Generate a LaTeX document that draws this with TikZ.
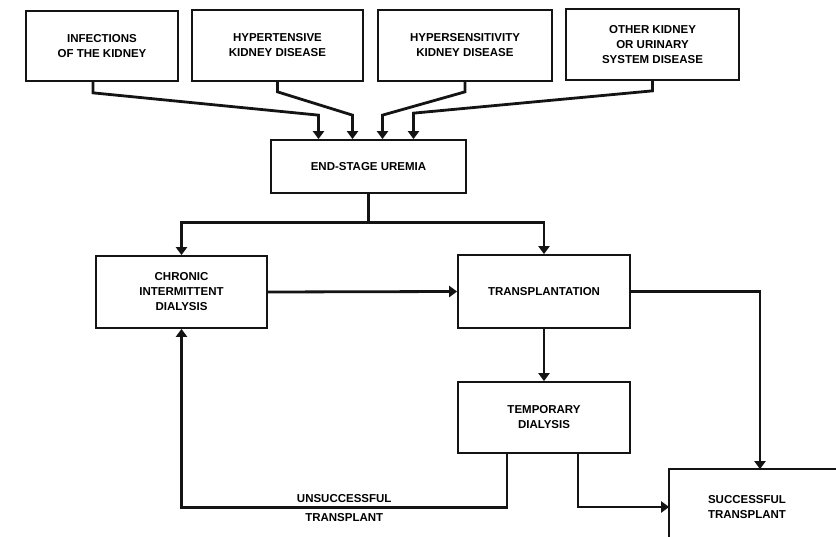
\documentclass[tikz,border=0pt]{standalone}
\usepackage{xcolor}
\usepackage{tikz}
\usepackage{fontspec}
\setmainfont{Liberation Sans}
\usetikzlibrary{arrows.meta,positioning,calc}
\definecolor{ink}{RGB}{20,20,20}

\begin{document}
\begin{tikzpicture}[x=1pt,y=-1pt,
        box/.style={draw=ink, line width=1.7pt, align=center, inner sep=2pt,
            font=\fontsize{11.5}{15}\selectfont\bfseries},
        link/.style={draw=ink, line width=2.8pt, -{Triangle[width=11pt,length=8pt]}},
        lbl/.style={font=\fontsize{11.5}{13}\selectfont\bfseries, inner sep=4pt}]
        \useasboundingbox (0,0) rectangle (836,537);
        \clip (0,0) rectangle (836,537);

        % Causes
        \node[box, minimum width=152, minimum height=70] (inf) at (102,46) {INFECTIONS\\OF THE KIDNEY};
        \node[box, minimum width=171, minimum height=71] (hyp) at (277.5,45.5) {HYPERTENSIVE\\KIDNEY DISEASE};
        \node[box, minimum width=174, minimum height=71] (sens) at (465,45.5) {HYPERSENSITIVITY\\KIDNEY DISEASE};
        \node[box, minimum width=173, minimum height=71] (other) at (652.5,44.5) {OTHER KIDNEY\\OR URINARY\\SYSTEM DISEASE};

        % Uremia
        \node[box, minimum width=195, minimum height=53] (uremia) at (368.5,166.5) {END-STAGE UREMIA};

        % Treatments
        \node[box, minimum width=171, minimum height=72] (chronic) at (181.5,292) {CHRONIC\\INTERMITTENT\\DIALYSIS};
        \node[box, minimum width=172, minimum height=73] (transp) at (544,291.5) {TRANSPLANTATION};
        \node[box, minimum width=172, minimum height=71] (temp) at (544,417.5) {TEMPORARY\\DIALYSIS};
        \node[box, draw=none, minimum width=154, minimum height=74] (succ) at (747,507) {SUCCESSFUL\\TRANSPLANT};
        \draw[ink, line width=1.7pt] ($(succ.north east)+(40,0)$) -- (succ.north west) -- ($(succ.south west)+(0,20)$);

        % Causes into uremia
        \draw[link] ($(inf.south)+(-9,0)$) -- ++(0,11) -- ($(uremia.north)+(-50,-24)$) -- ($(uremia.north)+(-50,0)$);
        \draw[link] (hyp.south) -- ++(0,10) -- ($(uremia.north)+(-16,-24)$) -- ($(uremia.north)+(-16,0)$);
        \draw[link] (sens.south) -- ++(0,10) -- ($(uremia.north)+(14,-24)$) -- ($(uremia.north)+(14,0)$);
        \draw[link] (other.south) -- ++(0,10) -- ($(uremia.north)+(45,-26)$) -- ($(uremia.north)+(45,0)$);

        % Uremia split
        \draw[link] (uremia.south) -- ++(0,29) -| (chronic.north);
        \draw[link] ($(uremia.south)+(0,29)$) -| (transp.north);

        % Flow between treatments
        \draw[link] (chronic.east) -- (transp.west);
        \draw[link] (transp.east) -| ($(succ.north)+(13,0)$);
        \draw[link] (transp.south) -- (temp.north);
        \draw[link] ($(temp.south)+(-37,0)$) -- ++(0,54) -| node[lbl, pos=0.25, above] {UNSUCCESSFUL} node[lbl, pos=0.25, below] {TRANSPLANT} (chronic.south);
        \draw[link] ($(temp.south)+(34,0)$) |- (succ.west);
    \end{tikzpicture}
\end{document}
